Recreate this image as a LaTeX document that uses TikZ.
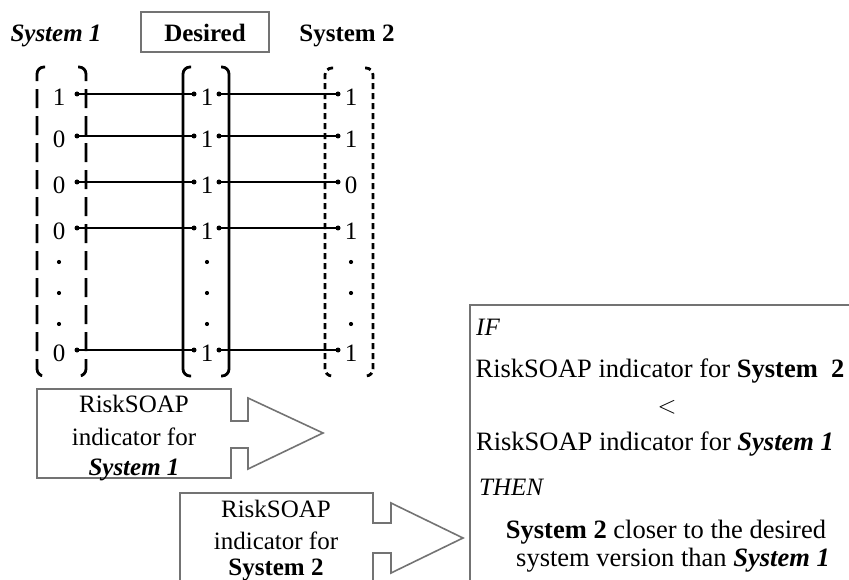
\documentclass[tikz,border=0pt]{standalone}
\usepackage{fontspec}
\setmainfont{Liberation Serif}
\begin{document}
\begin{tikzpicture}[x=1pt,y=-1pt,
  txt/.style={font=\fontsize{25}{30}\selectfont, inner sep=0pt},
  btxt/.style={font=\fontsize{26.5}{30}\selectfont, inner sep=0pt},
  dotn/.style={circle, fill=black, inner sep=0pt, minimum size=5pt},
  vdot/.style={circle, fill=black, inner sep=0pt, minimum size=4.2pt},
  rowline/.style={line width=2pt},
  brk/.style={line width=2.8pt, rounded corners=7pt},
  brkA/.style={brk, dash pattern=on 19pt off 8pt},
  brkC/.style={brk, dash pattern=on 6pt off 4pt},
  gline/.style={draw=black!55, line width=1.6pt}]
\useasboundingbox (0,0) rectangle (849,580);
\clip (0,0) rectangle (849,580);
% header
\node[txt, anchor=base] (h1) at (56,42) {\textbf{\textit{System 1}}};
\draw[gline] (141,12) rectangle (269,52);
\node[txt, anchor=base] (h2) at (205,42) {\textbf{Desired}};
\node[txt, anchor=base] (h3) at (347,42) {\textbf{System 2}};
% brackets
\draw[brkA] (45,67) -- (37,67) -- (37,376) -- (45,376);
\draw[brkA] (78,67) -- (86,67) -- (86,376) -- (78,376);
\draw[brk] (191,67) -- (183,67) -- (183,376) -- (191,376);
\draw[brk] (221,67) -- (229,67) -- (229,376) -- (221,376);
\draw[brkC] (333,68) -- (325,68) -- (325,376) -- (333,376);
\draw[brkC] (365,68) -- (373,68) -- (373,376) -- (365,376);
% rows
\foreach \i/\y/\a/\b/\c in {1/94/1/1/1, 2/136/0/1/1, 3/182/0/1/0, 4/228/0/1/1, 5/350/0/1/1} {
  \node[txt] (pa\i) at (59,{\y+3}) {\a};
  \node[txt] (pb\i) at (207,{\y+3}) {\b};
  \node[txt] (pc\i) at (351,{\y+3}) {\c};
  \node[dotn] (la\i) at (77,\y) {};
  \node[dotn] (ra\i) at (194,\y) {};
  \node[dotn] (lb\i) at (219,\y) {};
  \node[dotn] (rb\i) at (338,\y) {};
  \draw[rowline] (la\i.center) -- (ra\i.center);
  \draw[rowline] (lb\i.center) -- (rb\i.center);
}
\foreach \j/\y in {1/262, 2/293, 3/324} {
  \node[vdot] (da\j) at (59,\y) {};
  \node[vdot] (db\j) at (207,\y) {};
  \node[vdot] (dc\j) at (351,\y) {};
}
% arrow 1
\draw[gline, fill=white] (37,389) -- (231,389) -- (231,421) -- (248,421) -- (248,398) -- (323,433)
  -- (248,469) -- (248,448) -- (231,448) -- (231,478) -- (37,478) -- cycle;
\node[txt, anchor=base] (a1l1) at (134,412) {RiskSOAP};
\node[txt, anchor=base] (a1l2) at (134,445) {indicator for};
\node[txt, anchor=base] (a1l3) at (134,475) {\textbf{\textit{System 1}}};
% arrow 2
\draw[gline, fill=white] (180,610) -- (180,493) -- (373,493) -- (373,523) -- (391,523) -- (391,503) -- (463,538)
  -- (391,573) -- (391,553) -- (373,553) -- (373,610);
\node[txt, anchor=base] (a2l1) at (276,517) {RiskSOAP};
\node[txt, anchor=base] (a2l2) at (276,549) {indicator for};
\node[txt, anchor=base] (a2l3) at (276,575) {\textbf{System 2}};
% rule box
\draw[gline] (470,610) -- (470,305) -- (870,305);
\node[txt, anchor=base west] (bif) at (476,335) {\textit{IF}};
\node[btxt, anchor=base] (bl1) at (660,377) {RiskSOAP indicator for \textbf{System~~2}};
\node[btxt, anchor=base] (blt) at (667,413) {$<$};
\node[btxt, anchor=base] (bl3) at (655,450) {RiskSOAP indicator for \textbf{\textit{System 1}}};
\node[txt, anchor=base west] (bthen) at (479,495) {\textit{THEN}};
\node[btxt, anchor=base] (bl4) at (666,538) {\textbf{System 2} closer to the desired};
\node[btxt, anchor=base] (bl5) at (673,566) {system version than \textbf{\textit{System 1}}};
\end{tikzpicture}
\end{document}
